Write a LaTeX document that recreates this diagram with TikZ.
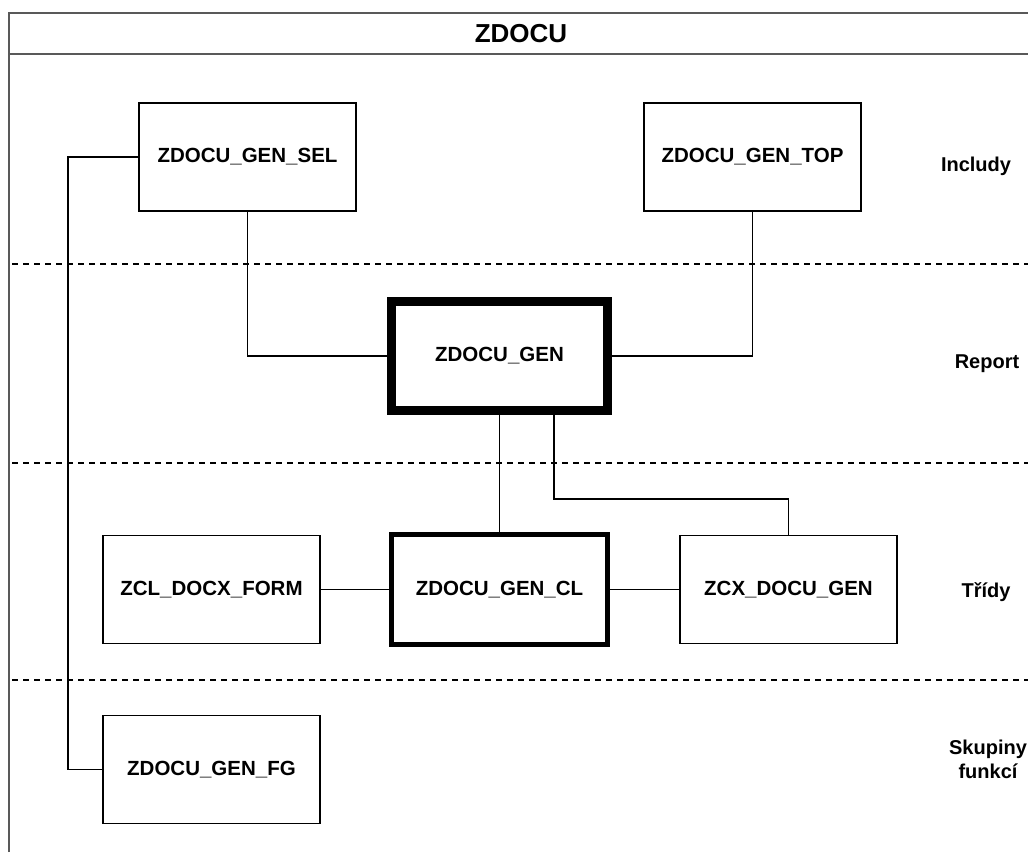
\documentclass[tikz,border=0pt]{standalone}
\usepackage{fontspec}
\setmainfont{Liberation Sans}
\usetikzlibrary{calc}
\begin{document}
\begin{tikzpicture}[x=1pt,y=-1pt,
  box/.style={draw=black,line width=1.6pt,minimum width=217pt,minimum height=108pt,inner sep=0pt,font=\fontsize{20.5}{24}\selectfont\bfseries,fill=white},
  boldbox/.style={box,line width=9pt,minimum width=216pt,minimum height=108.5pt},
  midbox/.style={box,line width=5pt,minimum width=216pt,minimum height=109.5pt},
  lane/.style={font=\fontsize{20}{24}\selectfont\bfseries,align=center,inner sep=0pt},
  conn/.style={draw=black,line width=1.6pt},
  sep/.style={draw=black,line width=1.3pt,dash pattern=on 6pt off 5pt},
  frame/.style={draw=black!65,line width=2pt}]
\useasboundingbox (0,0) rectangle (1028,852);
\fill[white] (0,0) rectangle (1028,852);
% frame
\draw[frame] (9,852) -- (9,13) -- (1028,13);
\draw[frame] (9,54) -- (1028,54);
\node[font=\fontsize{26}{30}\selectfont\bfseries,inner sep=0pt] (title) at (521,34) {ZDOCU};
% separators
\draw[sep] (12,264) -- (1028,264);
\draw[sep] (12,463) -- (1028,463);
\draw[sep] (12,680) -- (1028,680);
% nodes
\node[box] (sel) at (247.5,157) {ZDOCU\_GEN\_SEL};
\node[box] (top) at (752.5,157) {ZDOCU\_GEN\_TOP};
\node[boldbox] (gen) at (499.5,355.75) {ZDOCU\_GEN};
\node[midbox] (cl) at (499.5,589.5) {ZDOCU\_GEN\_CL};
\node[box] (form) at (211.5,589.5) {ZCL\_DOCX\_FORM};
\node[box] (zcx) at (788.5,589.5) {ZCX\_DOCU\_GEN};
\node[box] (fg) at (211.5,769.5) {ZDOCU\_GEN\_FG};
% lane labels
\node[lane] (l1) at (976,166) {Includy};
\node[lane] (l2) at (987,364) {Report};
\node[lane] (l3) at (986,592) {Třídy};
\node[lane] (l4) at (988,759) {Skupiny\\funkcí};
% helper coordinates
\coordinate (bus) at (68,0);
\coordinate (elb) at (554,499);
% connectors
\draw[conn] (sel.west) -- (sel.west -| bus) |- (fg.west);
\draw[conn] (sel.south) |- (gen.west);
\draw[conn] (top.south) |- (gen.east);
\draw[conn] (gen.south) -- (cl.north);
\draw[conn] (gen.south -| elb) -- (elb) -| (zcx.north);
\draw[conn] (form.east) -- (cl.west);
\draw[conn] (cl.east) -- (zcx.west);
\end{tikzpicture}
\end{document}
